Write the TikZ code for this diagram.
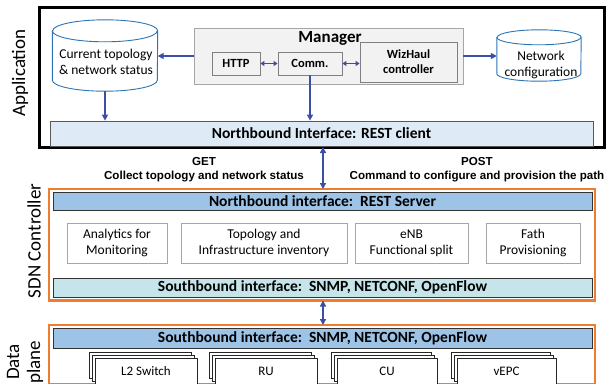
\documentclass[tikz,border=0pt]{standalone}
\usepackage{fontspec}
\setmainfont{Carlito}
\newfontfamily\arialfont{Liberation Sans}
\usepackage{tikz}
\usetikzlibrary{shapes,arrows.meta,positioning,calc,shadows}
\usepackage{xcolor}

\definecolor{linkblue}{HTML}{3C4FA8}
\definecolor{cylblue}{HTML}{2E75B6}
\definecolor{lightbar}{HTML}{DEEBF7}
\definecolor{restbar}{HTML}{9DC3E6}
\definecolor{sbbar}{HTML}{C5E5EA}
\definecolor{ctrlorange}{HTML}{ED7D31}
\definecolor{mgrfill}{HTML}{F2F2F2}
\definecolor{mgrline}{HTML}{A6A6A6}
\definecolor{boxline}{HTML}{7F7F7F}

\begin{document}
\begin{tikzpicture}[x=1pt, y=-1pt,
    >={Triangle[length=6pt,width=6pt]},
    link/.style={draw=linkblue, line width=1.8pt},
    smalllink/.style={draw=linkblue, line width=1.4pt, {Triangle[length=4pt,width=5pt]}-{Triangle[length=4pt,width=5pt]}},
    db/.style={inner sep=0pt},
    dbline/.style={draw=cylblue, line width=0.9pt, fill=white},
    dbtext/.style={align=center, inner sep=0pt, font=\fontsize{13.5}{16.5}\selectfont},
    bar/.style={draw=black!80, line width=0.8pt, minimum width=539pt, inner sep=0pt,
        font=\fontsize{15.5}{18}\selectfont\bfseries},
    funcbox/.style={draw=mgrline, fill=white, line width=0.8pt, minimum height=40pt, inner sep=0pt,
        align=center, font=\fontsize{13.5}{16}\selectfont},
    mgrbox/.style={draw=boxline, fill=mgrfill, line width=0.8pt, inner sep=0pt, align=center,
        font=\fontsize{12.5}{15}\selectfont\bfseries},
    devbox/.style={draw=black!85, fill=white, line width=0.6pt, minimum height=26pt, inner sep=0pt,
        font=\fontsize{13}{16}\selectfont,
        double copy shadow={shadow xshift=-3pt, shadow yshift=3pt, draw=black!85, fill=white}},
    layer/.style={rotate=90, align=center, font=\fontsize{19}{21}\selectfont},
    verb/.style={align=center, font=\arialfont\bfseries\fontsize{11.6}{14}\selectfont}
]
    \useasboundingbox (0,0) rectangle (607,383);

    % Application layer
    \draw[line width=3pt] (39,7) rectangle (604.5,147);
    \node[layer] (applbl) at (20,73) {Application};
    \node[bar, fill=lightbar, draw=black!65, minimum width=543pt, minimum height=25pt] (nbc) at (321.5,133.5)
        {Northbound Interface: REST client};

    % Data stores (cylinders drawn round their nodes)
    \node[db, minimum width=105pt, minimum height=71pt] (curdb) at (105,55.5) {};
    \draw[dbline] ([yshift=-11pt]curdb.north west) -- ([yshift=11pt]curdb.south west)
        arc[start angle=180, end angle=360, x radius=52.5pt, y radius=11pt]
        -- ([yshift=-11pt]curdb.north east)
        arc[start angle=0, end angle=180, x radius=52.5pt, y radius=11pt] -- cycle;
    \draw[dbline, fill=none] ([yshift=-11pt]curdb.north west)
        arc[start angle=180, end angle=360, x radius=52.5pt, y radius=11pt];
    \node[dbtext] (curtxt) at (106,62) {Current topology\\\& network status};

    \node[db, minimum width=84pt, minimum height=51pt] (netdb) at (539,55.5) {};
    \draw[dbline] ([yshift=-7.5pt]netdb.north west) -- ([yshift=7.5pt]netdb.south west)
        arc[start angle=180, end angle=360, x radius=42pt, y radius=7.5pt]
        -- ([yshift=-7.5pt]netdb.north east)
        arc[start angle=0, end angle=180, x radius=42pt, y radius=7.5pt] -- cycle;
    \draw[dbline, fill=none] ([yshift=-7.5pt]netdb.north west)
        arc[start angle=180, end angle=360, x radius=42pt, y radius=7.5pt];
    \node[dbtext] (nettxt) at (541,65) {Network\\configuration};

    % Manager and its parts
    \node[draw=mgrline, fill=mgrfill, line width=0.8pt, minimum width=269pt, minimum height=56pt] (mgr) at (328.5,56) {};
    \node[font=\fontsize{17}{20}\selectfont\bfseries] (mgrlbl) at (330,38) {Manager};
    \node[mgrbox, minimum width=48pt, minimum height=23pt] (http) at (236,63.5) {HTTP};
    \node[mgrbox, minimum width=64pt, minimum height=23pt] (comm) at (310,63.5) {Comm.};
    \node[mgrbox, minimum width=97pt, minimum height=40pt] (wiz) at (408.5,62) {WizHaul\\controller};

    \draw[link, ->] (mgr.west) -- (curdb.east |- mgr.west);
    \draw[link, ->] (mgr.east) -- (netdb.west |- mgr.east);
    \draw[smalllink] (http.east) -- (comm.west);
    \draw[smalllink] (comm.east) -- (comm.east -| wiz.west);
    \draw[link, ->] (curdb.south) -- (curdb.south |- nbc.north);
    \draw[link, ->] (comm.south) -- (comm.south |- nbc.north);

    % SDN controller
    \draw[ctrlorange, line width=2.5pt] (49,189) rectangle (595,300.5);
    \node[layer] (sdnlbl) at (34,241) {SDN Controller};
    \node[bar, fill=restbar, minimum height=18pt] (rest) at (322.5,201)
        {Northbound interface:\ \ REST Server};
    \node[bar, fill=sbbar, minimum height=19pt] (sbctl) at (322.5,287.5)
        {Southbound interface:\ \ SNMP, NETCONF, OpenFlow};

    \node[funcbox, minimum width=100pt] (ana) at (117,243) {Analytics for\\Monitoring};
    \node[funcbox, minimum width=166pt] (topo) at (264,243) {Topology and\\Infrastructure inventory};
    \node[funcbox, minimum width=113pt] (enb) at (411.5,243) {eNB\\Functional split};
    \node[funcbox, minimum width=94pt] (path) at (533,243) {Fath\\Provisioning};

    % REST calls
    \coordinate (nbcout) at (323,147);
    \coordinate (ctrlin) at (323,189);
    \draw[link, line width=1.4pt, <->] (nbcout) -- (ctrlin);
    \node[verb] (getlbl) at (204,170) {GET\\Collect topology and network status};
    \node[verb] (postlbl) at (477,170) {POST\\Command to configure and provision the path};

    % Data plane
    \draw[ctrlorange, line width=2.5pt] (49,325) rectangle (595,384);
    \node[layer] (datalbl) at (25,362) {Data\\plane};
    \node[bar, fill=restbar, minimum height=20pt] (sbdp) at (322.5,338)
        {Southbound interface:\ \ SNMP, NETCONF, OpenFlow};
    \coordinate (ctrlout) at (323,300.5);
    \coordinate (dpin) at (323,325);
    \draw[link, line width=1.4pt, <->] (ctrlout) -- (dpin);

    \foreach \name/\x/\w/\txt in {l2/146/102/L2 Switch, ru/266/102/RU, cu/387/100/CU, epc/506.5/99/vEPC} {
        \node[devbox, minimum width=\w pt] (\name) at (\x,371) {\txt};
    }
\end{tikzpicture}
\end{document}
